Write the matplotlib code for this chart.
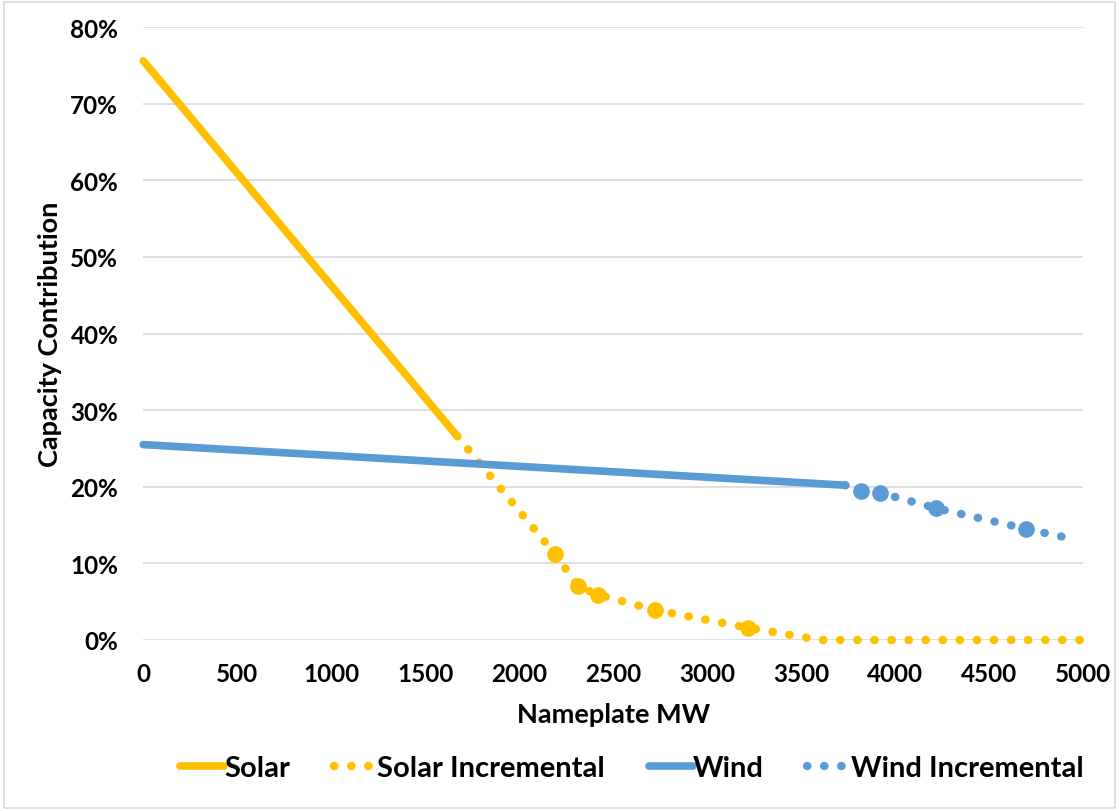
import numpy as np
import matplotlib as mpl
import matplotlib.pyplot as plt
from matplotlib.patches import Rectangle

# data (MW, capacity contribution %)
solar_mw = [0, 1670]
solar_cc = [75.6, 26.6]
solar_inc_mw = [1670, 2191, 2314, 2420, 2723, 3218, 3600, 5000]
solar_inc_cc = [26.6, 11.2, 7.0, 5.9, 3.9, 1.6, 0.0, 0.0]
solar_pts_mw = [2191, 2314, 2420, 2723, 3218]
solar_pts_cc = [11.2, 7.0, 5.9, 3.9, 1.6]

wind_mw = [0, 3734]
wind_cc = [25.5, 20.2]
wind_inc_mw = [3734, 3819, 3920, 4218, 4697, 4960]
wind_inc_cc = [20.2, 19.5, 19.2, 17.2, 14.5, 13.1]
wind_pts_mw = [3819, 3920, 4218, 4697]
wind_pts_cc = [19.5, 19.2, 17.2, 14.5]

xticks = list(range(0, 5001, 500))
yticks = list(range(0, 81, 10))

gold = '#FFC000'
blue = '#5B9BD5'

mpl.rc('font', family=['Lato', 'DejaVu Sans'], weight='bold')
mpl.rc('axes', labelweight='bold')

fig = plt.figure(figsize=(11.19, 8.12), dpi=100)
fig.patches.append(Rectangle((0.004, 0.004), 0.992, 0.992, transform=fig.transFigure,
                             fill=False, edgecolor='#d9d9d9', linewidth=1.2))
ax = fig.add_axes([0.128, 0.2106, 0.840, 0.7549])

dots = (0, (0.05, 2.0))
ax.plot(solar_mw, solar_cc, color=gold, lw=5.5, solid_capstyle='round', label='Solar',
        clip_on=False)
ax.plot(solar_inc_mw, solar_inc_cc, color=gold, lw=6, linestyle=dots,
        dash_capstyle='round', label='Solar Incremental', clip_on=False)
ax.plot(solar_pts_mw, solar_pts_cc, 'o', color=gold, ms=11, label='_nolegend_')
ax.plot(wind_mw, wind_cc, color=blue, lw=5.5, solid_capstyle='round', label='Wind',
        clip_on=False)
ax.plot(wind_inc_mw, wind_inc_cc, color=blue, lw=6, linestyle=dots,
        dash_capstyle='round', label='Wind Incremental', clip_on=False)
ax.plot(wind_pts_mw, wind_pts_cc, 'o', color=blue, ms=11, label='_nolegend_')

ax.set_xlim(0, 5000)
ax.set_ylim(0, 80)
ax.set_xticks(xticks)
ax.set_yticks(yticks)
ax.set_yticklabels([f'{v}%' for v in yticks])
ax.tick_params(length=0, labelsize=17.5)
ax.tick_params(axis='x', pad=16)
ax.tick_params(axis='y', pad=18)
ax.grid(axis='y', color='#d9d9d9', lw=1.2)
ax.set_axisbelow(True)
for s in ax.spines.values():
    s.set_visible(False)

ax.set_xlabel('Nameplate MW', fontsize=19.5, labelpad=12)
ax.set_ylabel('Capacity Contribution', fontsize=19.5, labelpad=6)

ax.legend(loc='upper center', bbox_to_anchor=(0.52, -0.145), ncol=4, frameon=False,
          fontsize=21, handlelength=1.5, handletextpad=0.0, columnspacing=1.5)

plt.savefig('out.png', dpi=100)
